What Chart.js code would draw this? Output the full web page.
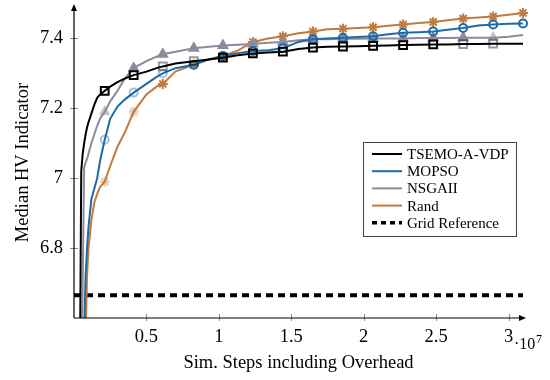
<!DOCTYPE html>
<html>
<head>
<meta charset="utf-8">
<script src="https://cdn.jsdelivr.net/npm/chart.js@4"></script>
<style>
  html, body { margin: 0; padding: 0; background: #fff; }
  canvas { display: block; }
</style>
</head>
<body>
<canvas id="hvChart" width="550" height="380"></canvas>
<script>
// Simulation steps (units of 10^7)
const steps = [0.03, 0.04, 0.05, 0.06, 0.07, 0.08, 0.09, 0.10, 0.12, 0.14, 0.16, 0.18,
    0.212, 0.25, 0.30, 0.35, 0.412, 0.50, 0.57, 0.613, 0.70, 0.827, 0.93, 1.028, 1.13,
    1.235, 1.34, 1.442, 1.55, 1.65, 1.75, 1.857, 1.96, 2.065, 2.17, 2.272, 2.38, 2.48,
    2.58, 2.687, 2.79, 2.894, 3.00, 3.10];

// where the marks sit
const markSteps = [0.212, 0.412, 0.613, 0.827, 1.028, 1.235, 1.442, 1.65, 1.857, 2.065,
    2.272, 2.48, 2.687, 2.894, 3.10];

const tsemo = [6.20, 6.40, 7.02, 7.07, 7.10, 7.125, 7.145, 7.16, 7.185, 7.21, 7.23, 7.24,
    7.25, 7.262, 7.275, 7.285, 7.295, 7.305, 7.315, 7.32, 7.328, 7.335, 7.34, 7.345, 7.352,
    7.357, 7.36, 7.362, 7.37, 7.374, 7.376, 7.377, 7.378, 7.379, 7.38, 7.381, 7.382, 7.383,
    7.383, 7.384, 7.384, 7.385, 7.385, 7.385];

const mopso = [6.0, 6.1, 6.2, 6.3, 6.55, 6.72, 6.8, 6.86, 6.94, 6.97, 7.0, 7.05,
    7.11, 7.17, 7.205, 7.225, 7.245, 7.27, 7.29, 7.30, 7.315, 7.325, 7.34, 7.35, 7.358,
    7.364, 7.366, 7.372, 7.39, 7.398, 7.40, 7.402, 7.404, 7.406, 7.412, 7.416, 7.418, 7.42,
    7.425, 7.43, 7.437, 7.44, 7.442, 7.443];

const nsga2 = [6.1, 6.2, 6.35, 6.7, 7.03, 7.045, 7.055, 7.07, 7.10, 7.125, 7.15, 7.17,
    7.19, 7.22, 7.25, 7.285, 7.315, 7.335, 7.348, 7.355, 7.362, 7.372, 7.376, 7.38, 7.382,
    7.384, 7.388, 7.39, 7.395, 7.398, 7.398, 7.399, 7.399, 7.40, 7.40, 7.40, 7.401, 7.401,
    7.401, 7.402, 7.402, 7.402, 7.405, 7.41];

const rand = [6.0, 6.1, 6.2, 6.25, 6.3, 6.55, 6.72, 6.8, 6.88, 6.93, 6.955, 6.975,
    6.99, 7.035, 7.09, 7.13, 7.19, 7.24, 7.262, 7.27, 7.305, 7.325, 7.34, 7.35, 7.365,
    7.39, 7.40, 7.406, 7.415, 7.42, 7.426, 7.428, 7.43, 7.432, 7.436, 7.44, 7.444, 7.447,
    7.452, 7.457, 7.46, 7.463, 7.468, 7.473];

const gridRefSteps = [0, 3.1];
const gridRef = [6.665, 6.665];

const xTicks = [0.5, 1, 1.5, 2, 2.5, 3];
const yTicks = [6.8, 7, 7.2, 7.4];

const FONT = '"Liberation Serif", "Times New Roman", serif';

const toPoints = (xs, ys) => xs.map((x, i) => ({ x: x, y: ys[i] }));

// hex + alpha helper
function fade(hex, a) {
    const n = parseInt(hex.slice(1), 16);
    return `rgba(${(n >> 16) & 255}, ${(n >> 8) & 255}, ${n & 255}, ${a})`;
}

function makeSeries(label, ys, style) {
    const color = style.color;
    const isMark = (ctx) => {
        const k = markSteps.indexOf(steps[ctx.dataIndex]);
        return k >= 0 && !(style.skip || []).includes(k);
    };
    const markColor = (ctx) => {
        const k = markSteps.indexOf(steps[ctx.dataIndex]);
        return (style.faded || []).includes(k) ? fade(color, 0.4) : color;
    };
    return {
        label: label,
        data: toPoints(steps, ys),
        borderColor: color,
        borderWidth: 2,
        backgroundColor: color,
        pointStyle: style.mark,
        pointRadius: (ctx) => isMark(ctx) ? style.size : 0,
        pointHoverRadius: 0,
        pointBorderWidth: 2,
        pointBorderColor: markColor,
        pointBackgroundColor: (ctx) => style.filled ? markColor(ctx) : 'rgba(0,0,0,0)',
        tension: 0,
        clip: { left: 0, top: 10, right: 10, bottom: 0 }
    };
}

const axisDecor = {
    id: 'axisDecor',
    afterDraw(chart) {
        const { ctx, chartArea: a, scales } = chart;
        const xs = scales.x, ys = scales.y;
        ctx.save();

        // tick marks
        ctx.strokeStyle = '#8a8a8a';
        ctx.lineWidth = 1;
        yTicks.forEach(v => {
            const py = Math.round(ys.getPixelForValue(v)) + 0.5;
            ctx.beginPath(); ctx.moveTo(a.left - 4, py); ctx.lineTo(a.left + 4, py); ctx.stroke();
        });
        xTicks.forEach(v => {
            const px = Math.round(xs.getPixelForValue(v)) + 0.5;
            ctx.beginPath(); ctx.moveTo(px, a.bottom - 4); ctx.lineTo(px, a.bottom + 3); ctx.stroke();
        });

        // axis lines with arrow heads
        ctx.strokeStyle = '#000';
        ctx.fillStyle = '#000';
        ctx.lineWidth = 1.2;
        const x0 = a.left, y0 = a.bottom;
        const yTop = 4, xEnd = a.right + 3;
        ctx.beginPath();
        ctx.moveTo(x0, y0); ctx.lineTo(x0, yTop + 4);
        ctx.moveTo(x0, y0); ctx.lineTo(xEnd - 4, y0);
        ctx.stroke();
        ctx.beginPath();
        ctx.moveTo(x0, yTop); ctx.lineTo(x0 - 3, yTop + 7); ctx.lineTo(x0 + 3, yTop + 7); ctx.closePath();
        ctx.fill();
        ctx.beginPath();
        ctx.moveTo(xEnd, y0); ctx.lineTo(xEnd - 7, y0 - 3); ctx.lineTo(xEnd - 7, y0 + 3); ctx.closePath();
        ctx.fill();

        // exponent for the x axis
        ctx.textBaseline = 'alphabetic';
        ctx.textAlign = 'left';
        ctx.font = '16px ' + FONT;
        ctx.fillText('·10', 514, 349);
        ctx.font = '12px ' + FONT;
        ctx.fillText('7', 536, 343);

        // legend box
        const bx = 363.5, by = 142.5, bw = 153, bh = 94;
        ctx.fillStyle = '#fff';
        ctx.fillRect(bx, by, bw, bh);
        ctx.strokeStyle = '#444';
        ctx.lineWidth = 1;
        ctx.strokeRect(bx, by, bw, bh);
        ctx.font = '15px ' + FONT;
        ctx.textBaseline = 'middle';
        chart.data.datasets.forEach((ds, i) => {
            const ry = 154 + i * 17.2;
            ctx.strokeStyle = ds.borderColor;
            ctx.lineWidth = ds.borderDash ? 3.5 : 2;
            ctx.setLineDash(ds.borderDash ? [5, 4] : []);
            ctx.beginPath(); ctx.moveTo(372, ry); ctx.lineTo(402, ry); ctx.stroke();
            ctx.setLineDash([]);
            ctx.fillStyle = '#000';
            ctx.fillText(ds.label, 407, ry + 1);
        });
        ctx.restore();
    }
};

const HvChart = {
    chart: null,

    init() {
        const ctx = document.getElementById('hvChart');
        if (!ctx) return;

        this.chart = new Chart(ctx.getContext('2d'), {
            type: 'line',
            data: {
                datasets: [
                    makeSeries('TSEMO-A-VDP', tsemo, { color: '#000000', mark: 'rect', size: 5.5, faded: [2, 3, 12, 13], skip: [14] }),
                    makeSeries('MOPSO', mopso, { color: '#1f6aa5', mark: 'circle', size: 4, faded: [0, 1, 2] }),
                    makeSeries('NSGAII', nsga2, { color: '#8b8b9c', mark: 'triangle', size: 5, filled: true, faded: [0, 13], skip: [14] }),
                    makeSeries('Rand', rand, { color: '#c27a3c', mark: 'star', size: 5, faded: [0, 1] }),
                    {
                        label: 'Grid Reference',
                        data: toPoints(gridRefSteps, gridRef),
                        borderColor: '#000000',
                        borderWidth: 4,
                        borderDash: [7, 5],
                        pointRadius: 0,
                        pointHoverRadius: 0
                    }
                ]
            },
            options: {
                responsive: false,
                animation: false,
                events: [],
                layout: { padding: { top: 5, right: 27, bottom: 0, left: 0 } },
                plugins: { legend: { display: false }, tooltip: { enabled: false } },
                scales: {
                    x: {
                        type: 'linear',
                        min: 0,
                        max: 3.1,
                        grid: { display: false, drawTicks: false },
                        border: { display: false },
                        afterBuildTicks: (s) => { s.ticks = xTicks.map(v => ({ value: v })); },
                        afterFit: (s) => { s.height = 62; s.paddingLeft = 0; s.paddingRight = 0; },
                        ticks: {
                            padding: 8,
                            color: '#000',
                            font: { family: FONT, size: 18.5 },
                            callback: (v) => String(v)
                        },
                        title: {
                            display: true,
                            text: 'Sim. Steps including Overhead',
                            color: '#000',
                            font: { family: FONT, size: 18.5 },
                            padding: { top: 0, bottom: 6 }
                        }
                    },
                    y: {
                        min: 6.6,
                        max: 7.49,
                        grid: { display: false, drawTicks: false },
                        border: { display: false },
                        afterBuildTicks: (s) => { s.ticks = yTicks.map(v => ({ value: v })); },
                        afterFit: (s) => { s.width = 74; s.paddingTop = 0; s.paddingBottom = 0; },
                        ticks: {
                            padding: 11,
                            color: '#000',
                            font: { family: FONT, size: 18.5 },
                            callback: (v) => String(+v.toFixed(2))
                        },
                        title: {
                            display: true,
                            text: 'Median HV Indicator',
                            color: '#000',
                            font: { family: FONT, size: 18.5 },
                            padding: { top: 12, bottom: 0 }
                        }
                    }
                }
            },
            plugins: [axisDecor]
        });
    }
};

HvChart.init();
</script>
</body>
</html>
